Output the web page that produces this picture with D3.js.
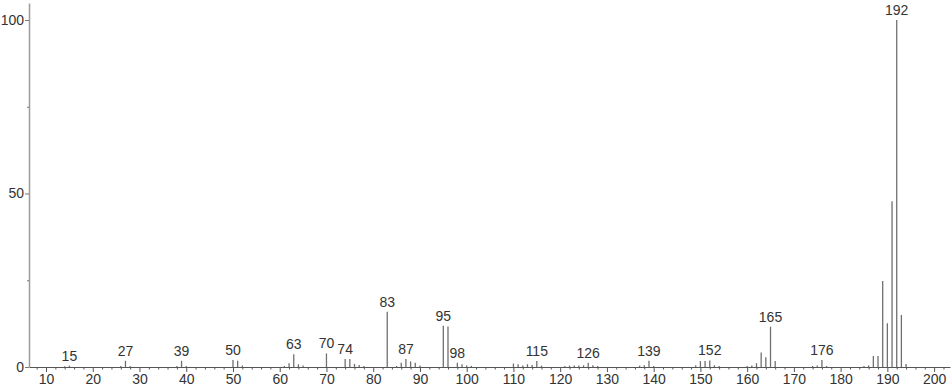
<!DOCTYPE html>
<html>
<head>
<meta charset="utf-8">
<script src="https://cdn.jsdelivr.net/npm/d3@7"></script>
<style>
  html, body { margin: 0; padding: 0; background: #fff; }
  svg text { font-family: "Liberation Sans", Arial, sans-serif; fill: #333; }
</style>
</head>
<body>
<svg id="chart" width="951" height="389"></svg>
<script>
// Espectro de masas: m/z y abundancia relativa (%)
const mz = [
  14, 15, 26, 27, 28, 38, 39, 40, 50, 51, 52,
  61, 62, 63, 64, 65, 70, 74, 75, 76, 77, 78,
  83, 85, 86, 87, 88, 89, 90, 95, 96, 98, 99, 100, 101,
  110, 111, 112, 113, 114, 115, 116,
  121, 122, 123, 124, 125, 126, 127, 128,
  137, 138, 139, 140, 149, 150, 151, 152, 153, 154,
  160, 161, 162, 163, 164, 165, 166,
  174, 175, 176, 177, 185, 186, 187, 188, 189, 190, 191, 192, 193, 194
];
const abundance = [
  0.2, 0.4, 0.3, 1.8, 0.3, 0.3, 1.8, 0.3, 2.0, 1.8, 0.4,
  0.3, 1.1, 3.7, 0.8, 0.4, 3.9, 2.3, 2.3, 0.9, 0.6, 0.3,
  15.9, 0.3, 1.2, 2.3, 1.6, 1.2, 0.4, 11.9, 11.7, 1.2, 0.8, 0.4, 0.3,
  1.0, 0.8, 0.4, 0.8, 0.6, 1.7, 0.4,
  0.3, 0.4, 0.4, 0.4, 0.5, 1.2, 0.5, 0.3,
  0.4, 0.5, 1.8, 0.3, 0.5, 1.7, 1.7, 1.9, 0.5, 0.3,
  0.3, 0.4, 1.1, 4.2, 2.8, 11.6, 1.7,
  0.3, 0.4, 2.0, 0.3, 0.3, 0.4, 3.2, 3.2, 24.8, 12.6, 47.8, 100, 15.0, 0.9
];
// Picos etiquetados
const labeledPeaks = [15, 27, 39, 50, 63, 70, 74, 83, 87, 95, 98, 115, 126, 139, 152, 165, 176, 192];

const xMajor = d3.range(10, 201, 10);
const xMinor = d3.range(8, 203, 2).filter(v => v % 10 !== 0);
const yMajor = [0, 50, 100];
const yMinor = [25, 75];

const svg = d3.select("#chart");

const x = d3.scaleLinear().domain([6.36, 203.4]).range([29, 950]);
const y = d3.scaleLinear().domain([0, 104.9]).range([367, 3]);

const peaks = mz.map((m, i) => ({ m: m, v: abundance[i] }));

// Lineas de los picos
svg.append("g")
  .selectAll("line")
  .data(peaks)
  .join("line")
  .attr("x1", d => x(d.m))
  .attr("x2", d => x(d.m))
  .attr("y1", y(0))
  .attr("y2", d => y(d.v))
  .attr("stroke", "#707070")
  .attr("stroke-width", 1.3);

// Eje X: ticks menores y mayores
svg.append("g")
  .attr("transform", `translate(0,${y(0)})`)
  .call(d3.axisBottom(x).tickValues(xMinor).tickSize(2.5).tickSizeOuter(0).tickFormat(""))
  .call(g => g.select(".domain").attr("stroke", "#555"))
  .call(g => g.selectAll(".tick line").attr("stroke", "#555"));

svg.append("g")
  .attr("transform", `translate(0,${y(0)})`)
  .call(d3.axisBottom(x).tickValues(xMajor).tickSize(5).tickSizeOuter(0).tickPadding(2))
  .call(g => g.select(".domain").remove())
  .call(g => g.selectAll(".tick line").attr("stroke", "#555"))
  .call(g => g.selectAll(".tick text")
    .attr("fill", "#333")
    .style("font-size", "14px")
    .style("font-family", "'Liberation Sans', Arial, sans-serif"));

// Eje Y
svg.append("g")
  .attr("transform", `translate(${x.range()[0]},0)`)
  .call(d3.axisLeft(y).tickValues(yMinor).tickSize(2).tickSizeOuter(0).tickFormat(""))
  .call(g => g.select(".domain").attr("stroke", "#9a9a9a").attr("stroke-width", 1.5))
  .call(g => g.selectAll(".tick line").attr("stroke", "#777"));

svg.append("g")
  .attr("transform", `translate(${x.range()[0]},0)`)
  .call(d3.axisLeft(y).tickValues(yMajor).tickSize(4).tickSizeOuter(0).tickPadding(1))
  .call(g => g.select(".domain").remove())
  .call(g => g.selectAll(".tick line").attr("stroke", "#777"))
  .call(g => g.selectAll(".tick text")
    .attr("fill", "#333")
    .style("font-size", "14px")
    .style("font-family", "'Liberation Sans', Arial, sans-serif"));

// Etiquetas de los picos
svg.append("g")
  .selectAll("text")
  .data(peaks.filter(d => labeledPeaks.includes(d.m)))
  .join("text")
  .attr("x", d => x(d.m))
  .attr("y", d => y(d.v) - 5)
  .attr("text-anchor", "middle")
  .style("font-size", "14px")
  .text(d => d.m);
</script>
</body>
</html>
